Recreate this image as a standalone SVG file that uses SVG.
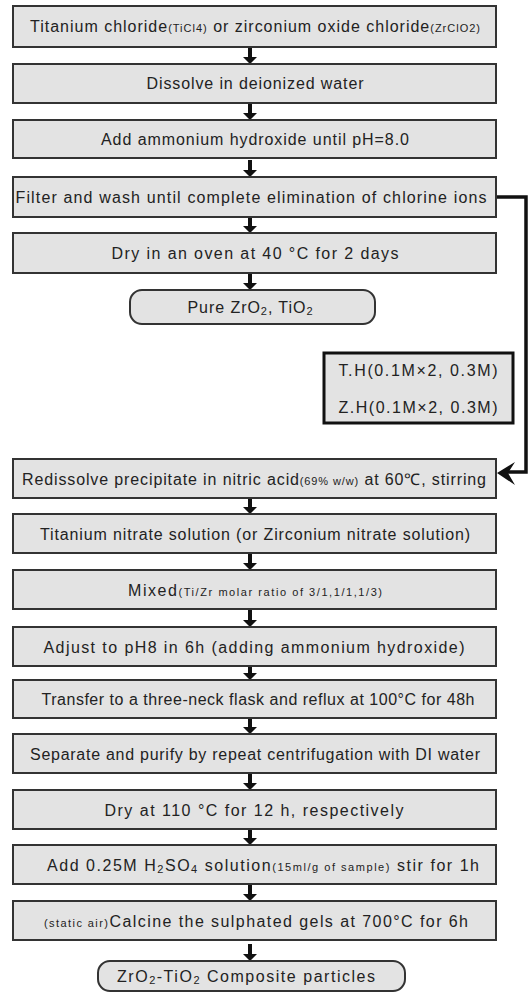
<svg xmlns="http://www.w3.org/2000/svg" xmlns:xlink="http://www.w3.org/1999/xlink" width="529" height="993" viewBox="0 0 529 993">
<style>
.box{fill:#e3e3e3;stroke:#333;stroke-width:2}
.tbox{fill:#e3e3e3;stroke:#111;stroke-width:3}
.t{font-family:"Liberation Sans",Arial,sans-serif;font-size:16px;fill:#222;text-anchor:middle}
.s{font-size:11px}
.conn{fill:none;stroke:#111;stroke-width:3.5}
</style>
<defs>
<path id="dn" d="M-2,-17 h4 v10 h5 l-7,7 l-7,-7 h5 z" fill="#111"/>
</defs>
<rect width="529" height="993" fill="#fff"/>
<g id="connectors">
<use xlink:href="#dn" x="250" y="64"/>
<use xlink:href="#dn" x="250" y="120"/>
<use xlink:href="#dn" x="250" y="177"/>
<use xlink:href="#dn" x="250" y="233"/>
<use xlink:href="#dn" x="250" y="290"/>
<use xlink:href="#dn" x="250" y="514"/>
<use xlink:href="#dn" x="250" y="570"/>
<use xlink:href="#dn" x="250" y="627"/>
<use xlink:href="#dn" x="250" y="680"/>
<use xlink:href="#dn" x="250" y="734"/>
<use xlink:href="#dn" x="250" y="790"/>
<use xlink:href="#dn" x="250" y="845"/>
<use xlink:href="#dn" x="250" y="901"/>
<use xlink:href="#dn" x="250" y="961"/>
<polyline class="conn" points="496,197 526,197 526,472 508,472"/>
<path d="M497,473 L515,462 L508,473 L515,485 Z" fill="#111"/>
</g>
<g id="n1"><rect class="box" x="13" y="6" width="483" height="41"/><text class="t" x="255" y="32" textLength="450">Titanium chloride<tspan class="s">(TiCl4)</tspan> or zirconium oxide chloride<tspan class="s">(ZrClO2)</tspan></text></g>
<g id="n2"><rect class="box" x="13" y="64" width="483" height="39"/><text class="t" x="255" y="89" textLength="217">Dissolve in deionized water</text></g>
<g id="n3"><rect class="box" x="13" y="120" width="483" height="38"/><text class="t" x="255" y="145" textLength="308">Add ammonium hydroxide until pH=8.0</text></g>
<g id="n4"><rect class="box" x="13" y="177" width="483" height="40"/><text class="t" x="251" y="203" textLength="471">Filter and wash until complete elimination of chlorine ions</text></g>
<g id="n5"><rect class="box" x="13" y="233" width="483" height="40"/><text class="t" x="255" y="259" textLength="287">Dry in an oven at 40 °C for 2 days</text></g>
<g id="n6"><rect class="box" x="130" y="290" width="245" height="34" rx="12"/><text class="t" x="250" y="313" textLength="125">Pure ZrO<tspan class="s" baseline-shift="-2">2</tspan>, TiO<tspan class="s" baseline-shift="-2">2</tspan></text></g>
<g id="n7"><rect class="tbox" x="324" y="353" width="189" height="70"/><text class="t" x="418" y="376" textLength="159">T.H(0.1M×2, 0.3M)</text><text class="t" x="418" y="413" textLength="159">Z.H(0.1M×2, 0.3M)</text></g>
<g id="n8"><rect class="box" x="13" y="459" width="483" height="39"/><text class="t" x="254" y="485" textLength="464">Redissolve precipitate in nitric acid<tspan class="s">(69% w/w)</tspan> at 60℃, stirring</text></g>
<g id="n9"><rect class="box" x="13" y="514" width="483" height="39"/><text class="t" x="255" y="540" textLength="430">Titanium nitrate solution (or Zirconium nitrate solution)</text></g>
<g id="n10"><rect class="box" x="13" y="570" width="483" height="39"/><text class="t" x="255" y="596" textLength="254">Mixed<tspan class="s">(Ti/Zr molar ratio of 3/1,1/1,1/3)</tspan></text></g>
<g id="n11"><rect class="box" x="13" y="627" width="483" height="39"/><text class="t" x="254" y="653" textLength="421">Adjust to pH8 in 6h (adding ammonium hydroxide)</text></g>
<g id="n12"><rect class="box" x="13" y="680" width="483" height="38"/><text class="t" x="258" y="705" textLength="433">Transfer to a three-neck flask and reflux at 100°C for 48h</text></g>
<g id="n13"><rect class="box" x="13" y="734" width="483" height="39"/><text class="t" x="255" y="760" textLength="450">Separate and purify by repeat centrifugation with DI water</text></g>
<g id="n14"><rect class="box" x="13" y="790" width="483" height="39"/><text class="t" x="254" y="816" textLength="299">Dry at 110 °C for 12 h, respectively</text></g>
<g id="n15"><rect class="box" x="13" y="845" width="483" height="39"/><text class="t" x="263" y="871" textLength="432">Add 0.25M H<tspan class="s" baseline-shift="-2">2</tspan>SO<tspan class="s" baseline-shift="-2">4</tspan> solution<tspan class="s">(15ml/g of sample)</tspan> stir for 1h</text></g>
<g id="n16"><rect class="box" x="13" y="901" width="483" height="39"/><text class="t" x="256" y="927" textLength="424"><tspan class="s">(static air)</tspan>Calcine the sulphated gels at 700°C for 6h</text></g>
<g id="n17"><rect class="box" x="98" y="961" width="307" height="30" rx="12"/><text class="t" x="246" y="982" textLength="258">ZrO<tspan class="s" baseline-shift="-2">2</tspan>-TiO<tspan class="s" baseline-shift="-2">2</tspan> Composite particles</text></g>
</svg>
